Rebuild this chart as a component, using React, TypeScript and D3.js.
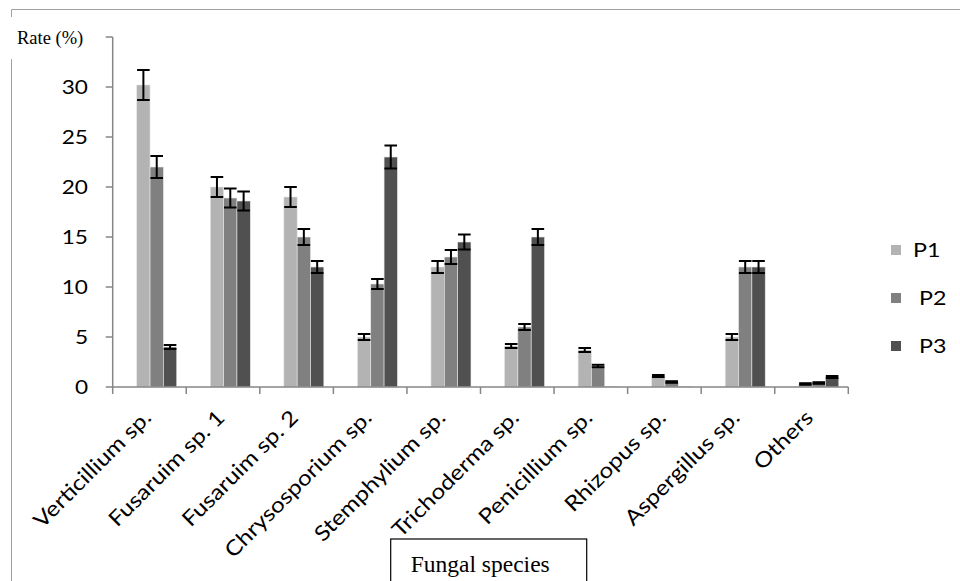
import React from "react";
import * as d3 from "d3";

const categories = [
  "Verticillium sp.",
  "Fusaruim sp. 1",
  "Fusaruim sp. 2",
  "Chrysosporium sp.",
  "Stemphylium sp.",
  "Trichoderma sp.",
  "Penicillium sp.",
  "Rhizopus sp.",
  "Aspergillus sp.",
  "Others",
];
const seriesNames = ["P1", "P2", "P3"];
const p1 = [30.2, 20.0, 19.0, 5.0, 12.0, 4.1, 3.7, 1.1, 5.0, 0.3];
const p2 = [22.0, 18.9, 15.0, 10.3, 13.0, 6.0, 2.1, 0.5, 12.0, 0.4];
const p3 = [4.0, 18.6, 12.0, 23.0, 14.5, 15.0, 0.05, 0.05, 12.0, 1.0];
const e1 = [1.5, 1.0, 1.0, 0.3, 0.6, 0.2, 0.2, 0.1, 0.3, 0.08];
const e2 = [1.1, 0.95, 0.8, 0.5, 0.7, 0.3, 0.12, 0.08, 0.6, 0.08];
const e3 = [0.2, 0.95, 0.6, 1.15, 0.75, 0.8, 0, 0, 0.6, 0.1];
const yTicks = [0, 5, 10, 15, 20, 25, 30, 35];
const yLabels = [0, 5, 10, 15, 20, 25, 30];

const values = [p1, p2, p3];
const errors = [e1, e2, e3];
const colors = ["#b3b3b3", "#808080", "#505050"];

const W = 960;
const H = 581;
const x0 = 112.7;
const x1 = 848.3;
const yBottom = 387;
const yTop = 37;
const SX = 1.16; // horizontal stretch of the source text

export default function App() {
  const y = d3.scaleLinear().domain([0, 35]).range([yBottom, yTop]);
  const xCat = d3
    .scaleBand<string>()
    .domain(categories)
    .range([x0, x1])
    .paddingInner(0.456)
    .paddingOuter(0.228)
    .align(0.716);
  const xSub = d3
    .scaleBand<string>()
    .domain(seriesNames)
    .range([0, xCat.bandwidth()]);
  const step = (x1 - x0) / categories.length;
  const boundaries = d3.range(categories.length + 1).map((i) => x0 + i * step);
  const axisColor = "#868686";
  const sans = "Lato, 'Open Sans', sans-serif";
  const serif = "'Liberation Serif', 'Times New Roman', serif";

  return (
    <svg
      width={W}
      height={H}
      style={{ position: "absolute", left: 0, top: 0, background: "#fff" }}
    >
      {/* outer frame */}
      <path
        d={`M11.5,${H} L11.5,9.5 L${W},9.5`}
        fill="none"
        stroke="#a0a0a0"
        strokeWidth={1}
      />
      {/* Rate label */}
      <rect x={8} y={17} width={80} height={42} fill="#fff" />
      <text x={17} y={44} fontFamily={serif} fontSize={18.5} fill="#000">
        Rate (%)
      </text>

      {/* bars */}
      {categories.map((c, i) =>
        seriesNames.map((s, k) => {
          const v = values[k][i];
          const bx = (xCat(c) as number) + (xSub(s) as number);
          const bw = xSub.bandwidth();
          return (
            <rect
              key={c + s}
              x={bx}
              y={y(v)}
              width={bw}
              height={yBottom - y(v)}
              fill={colors[k]}
              stroke="#e8e8e8"
              strokeWidth={0.6}
            />
          );
        })
      )}

      {/* error bars */}
      {categories.map((c, i) =>
        seriesNames.map((s, k) => {
          const v = values[k][i];
          const e = errors[k][i];
          if (e <= 0) return null;
          const cx = (xCat(c) as number) + (xSub(s) as number) + xSub.bandwidth() / 2;
          const hw = 6.3;
          return (
            <g key={"e" + c + s} stroke="#000" strokeWidth={2}>
              <line x1={cx} x2={cx} y1={y(v + e)} y2={y(v - e)} />
              <line x1={cx - hw} x2={cx + hw} y1={y(v + e)} y2={y(v + e)} />
              <line x1={cx - hw} x2={cx + hw} y1={y(v - e)} y2={y(v - e)} />
            </g>
          );
        })
      )}

      {/* y axis */}
      <line x1={x0} x2={x0} y1={y(35)} y2={yBottom} stroke={axisColor} strokeWidth={1.5} />
      {yTicks.map((t) => (
        <line
          key={"yt" + t}
          x1={x0 - 7}
          x2={x0}
          y1={y(t)}
          y2={y(t)}
          stroke={axisColor}
          strokeWidth={1.5}
        />
      ))}
      {yLabels.map((t) => (
        <text
          key={"yl" + t}
          transform={`translate(88,${y(t)}) scale(${SX},1)`}
          dy="0.36em"
          textAnchor="end"
          fontFamily={sans}
          fontSize={19.5}
          fill="#000"
        >
          {t}
        </text>
      ))}

      {/* x axis */}
      <line x1={x0} x2={x1} y1={yBottom} y2={yBottom} stroke={axisColor} strokeWidth={1.5} />
      {boundaries.map((bx, i) => (
        <line
          key={"xt" + i}
          x1={bx}
          x2={bx}
          y1={yBottom}
          y2={yBottom + 7}
          stroke={axisColor}
          strokeWidth={1.5}
        />
      ))}
      {categories.map((c, i) => {
        const cx = x0 + (i + 0.5) * step + 3;
        const ty = 419;
        return (
          <text
            key={"xl" + c}
            transform={`translate(${cx},${ty}) rotate(-45) scale(${SX},1)`}
            textAnchor="end"
            fontFamily={sans}
            fontSize={21}
            fill="#000"
          >
            {c}
          </text>
        );
      })}

      {/* legend */}
      {seriesNames.map((s, k) => {
        const ly = 250 + k * 48;
        return (
          <g key={"lg" + s}>
            <rect x={891} y={ly - 5} width={10} height={10} fill={colors[k]} />
            <text
              transform={`translate(${k === 0 ? 913 : 919},${ly}) scale(${SX},1)`}
              dy="0.36em"
              fontFamily={sans}
              fontSize={20}
              fill="#000"
            >
              {s}
            </text>
          </g>
        );
      })}

      {/* x-axis title box */}
      <rect x={390.7} y={539} width={196} height={60} fill="#fff" stroke="#000" strokeWidth={1.2} />
      <text x={410.7} y={572} fontFamily={serif} fontSize={23.5} fill="#000">
        Fungal species
      </text>
    </svg>
  );
}
